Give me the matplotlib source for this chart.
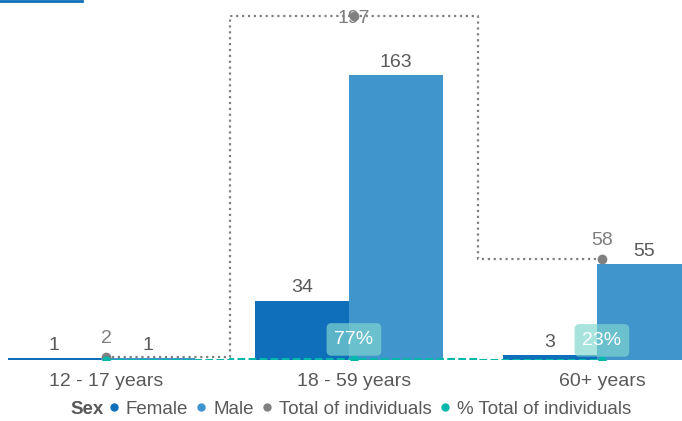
import numpy as np
import matplotlib.pyplot as plt
from matplotlib.lines import Line2D

plt.rcParams['font.family'] = ['Liberation Sans', 'DejaVu Sans']

# données
categories = ['12 - 17 years', '18 - 59 years', '60+ years']
female = [1, 34, 3]
male = [1, 163, 55]
total = [2, 197, 58]
pct_total = [0.8, 76.7, 22.6]  # % du total
pct_labels = ['', '77%', '23%']

c_female = '#0F6FBA'
c_male = '#4195CD'
c_total = '#808080'
c_pct = '#01B8AA'
c_text = '#595959'

fig = plt.figure(figsize=(6.82, 4.21), dpi=100)
ax = fig.add_axes([8/682, 61/421, 674/682, 360/421])

x = np.arange(len(categories))
w = 0.38
ax.bar(x - w/2, female, w, color=c_female, zorder=2)
ax.bar(x + w/2, male, w, color=c_male, zorder=2)

ymax = 206
ax.set_xlim(-0.375, 2.343)
ax.set_ylim(0, ymax)

# étiquettes des barres
for i in range(len(x)):
    ax.annotate(str(female[i]), (x[i] - w/2, female[i]), xytext=(0, 3),
                textcoords='offset points', ha='center', va='bottom',
                fontsize=14, color=c_text, zorder=2)
    ax.annotate(str(male[i]), (x[i] + w/2, male[i]), xytext=(0, 3),
                textcoords='offset points', ha='center', va='bottom',
                fontsize=14, color=c_text, zorder=2)

# les lignes (et les catégories) sont un peu décalées à droite des barres
xl = x + 0.02

# total (ligne en escalier pointillée)
ax.plot(xl, total, ':', color=c_total, lw=1.6, drawstyle='steps-mid', zorder=4)
ax.plot(xl, total, 'o', color=c_total, ms=6, zorder=5)
off = 10.3
for i in range(len(x)):
    ax.text(xl[i], min(total[i] + off, ymax - off), str(total[i]),
            ha='center', va='center', fontsize=14, color='#7F7F7F', zorder=3)

# % du total, sur le même axe
pct = np.array(pct_total) / 100
ax.plot(xl, pct, '--', color=c_pct, lw=1.5, drawstyle='steps-mid', zorder=4)
ax.plot(xl, pct, 'o', color=c_pct, ms=5, zorder=5)
for i in range(len(x)):
    if pct_labels[i]:
        ax.text(xl[i], pct[i] + 11, pct_labels[i], ha='center',
                va='center', fontsize=14, color='white', zorder=6,
                bbox=dict(boxstyle='round,pad=0.4,rounding_size=0.25',
                          fc=(0.5, 0.84, 0.81), ec='none', alpha=0.68))

ax.set_xticks(xl)
ax.set_xticklabels(categories, fontsize=14, color=c_text)
ax.tick_params(axis='x', length=0, pad=9)
ax.set_yticks([])
for s in ax.spines.values():
    s.set_visible(False)

# légende
handles = [Line2D([], [], ls='', marker='o', ms=5, color=c_female, label='Female'),
           Line2D([], [], ls='', marker='o', ms=5, color=c_male, label='Male'),
           Line2D([], [], ls='', marker='o', ms=5, color=c_total, label='Total of individuals'),
           Line2D([], [], ls='', marker='o', ms=5, color=c_pct, label='% Total of individuals')]
fig.text(70/682, 1 - 409/421, 'Sex', fontsize=13.5, fontweight='bold',
         color=c_text, va='center')
leg = fig.legend(handles=handles, loc='center left', ncol=4,
                 bbox_to_anchor=(109/682, 1 - 409/421), frameon=False,
                 fontsize=13.5, handlelength=0.5, handletextpad=0.4,
                 columnspacing=0.45, borderpad=0, borderaxespad=0)
for t in leg.get_texts():
    t.set_color(c_text)

# trait bleu en haut à gauche
fig.add_artist(Line2D([0, 82/682], [1 - 1/421, 1 - 1/421], color='#0F6FBA', lw=2))

fig.savefig('out.png', dpi=100)
